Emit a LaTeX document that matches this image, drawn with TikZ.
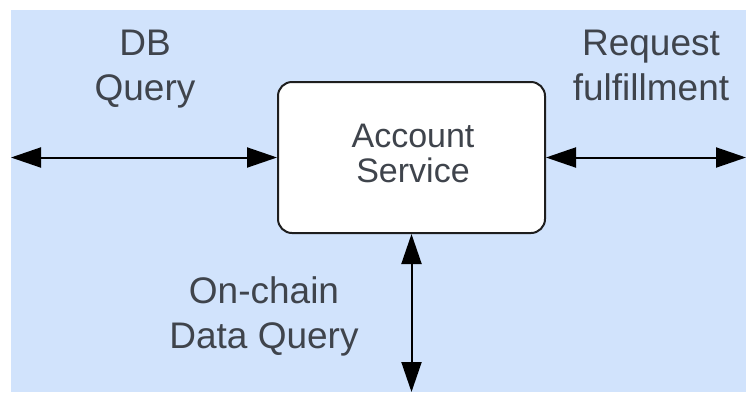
\documentclass[tikz,border=0pt]{standalone}
\usepackage{fontspec}
\setmainfont{Liberation Sans}
\usetikzlibrary{arrows.meta}
\definecolor{bgblue}{HTML}{D1E3FC}
\definecolor{ink}{HTML}{3F444C}
\definecolor{edge}{HTML}{1E1E1E}

\begin{document}
\begin{tikzpicture}[x=1pt,y=-1pt,
  lbl/.style={text=ink, font=\fontsize{37}{45}\selectfont, align=center, anchor=base, inner sep=0pt},
  conn/.style={draw=black, line width=2pt,
    {Triangle[length=30pt,width=20pt]}-{Triangle[length=30pt,width=20pt]}},
  svc/.style={draw=edge, line width=2pt, fill=white, rounded corners=14pt,
    minimum width=267pt, minimum height=151pt, inner sep=0pt}]
\useasboundingbox (0,0) rectangle (746,392);
% backdrop
\fill[bgblue] (11,10) rectangle (746,392);

% service box
\node[svc] (svc) at (411.5,157.5) {};
% anchor=base sits on the last line's baseline
\node[lbl, font=\fontsize{34}{35}\selectfont] (svctext) at (413,182) {Account\\Service};

% free ends of the connectors
\coordinate (west) at (11,157.5);
\coordinate (east) at (746,157.5);
\coordinate (south) at (411.5,392);

\draw[conn] (west) -- (svc.west);
\draw[conn] (svc.east) -- (east);
\draw[conn] (svc.south) -- (south);

% connector labels
\node[lbl] (db) at (145,100.5) {DB\\Query};
\node[lbl] (req) at (651,100) {Request\\fulfillment};
\node[lbl] (chain) at (264,348.5) {On-chain\\Data Query};
\end{tikzpicture}
\end{document}
